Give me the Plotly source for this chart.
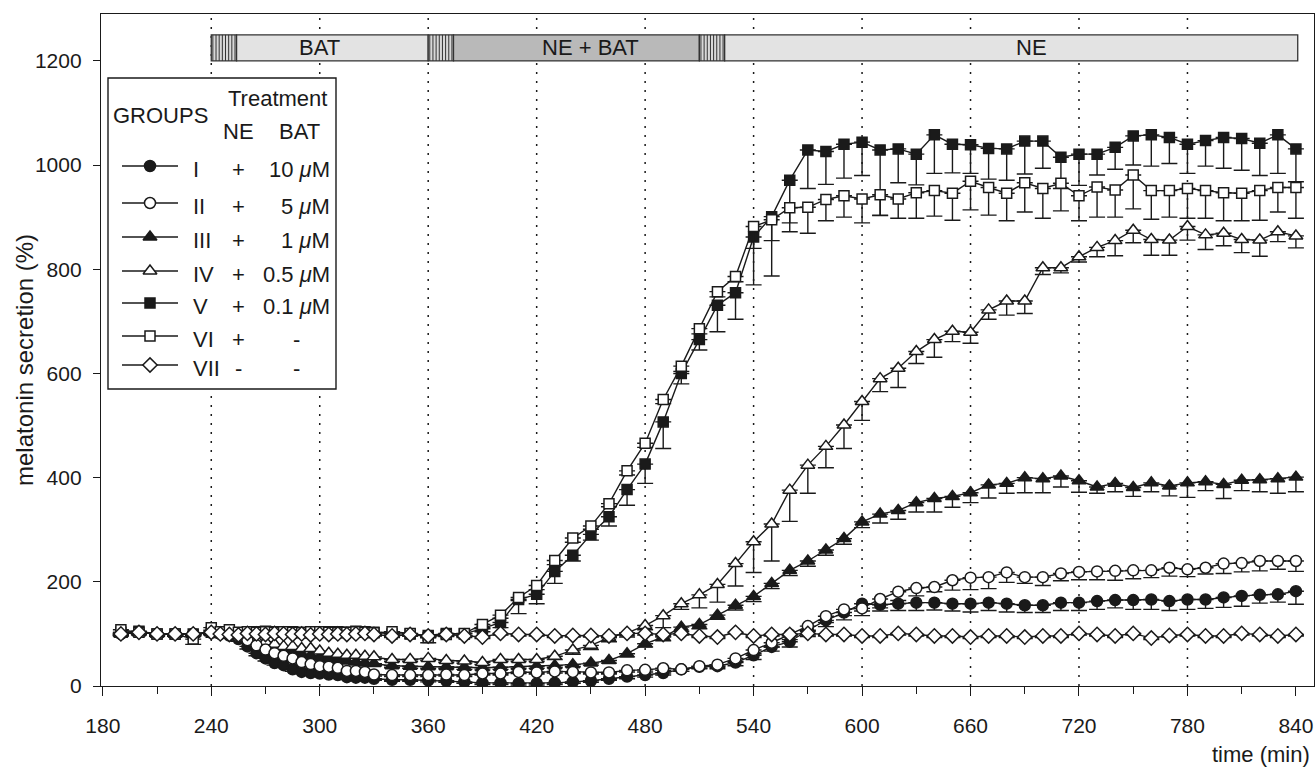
import plotly.graph_objects as go

# ---------------- data ----------------
times = [190, 200, 210, 220, 230, 240,
         245, 250, 255, 260, 265, 270, 275, 280, 285, 290, 295, 300, 305, 310, 315, 320, 325, 330,
         340, 350, 360, 370, 380, 390, 400, 410, 420, 430,
         440, 450, 460, 470, 480, 490, 500, 510, 520, 530,
         540, 550, 560, 570, 580, 590, 600, 610, 620, 630,
         640, 650, 660, 670, 680, 690, 700, 710, 720, 730,
         740, 750, 760, 770, 780, 790, 800, 810, 820, 830, 840]

groups = ["I", "II", "III", "IV", "V", "VI", "VII"]
ne_treat = ["+", "+", "+", "+", "+", "+", "-"]
bat_treat = ["10 <i>μ</i>M", "5 <i>μ</i>M", "1 <i>μ</i>M", "0.5 <i>μ</i>M", "0.1 <i>μ</i>M", "-", "-"]

g1 = [100, 103, 100, 100, 100, 102,
      100, 97, 90, 76, 63, 53, 44, 40, 32, 27, 25, 24, 22, 21, 17, 16, 16, 14,
      12, 12, 11, 10, 8, 6, 6, 5, 5, 6,
      8, 10, 14, 18, 21, 25, 32, 37, 38, 45,
      59, 75, 85, 107, 126, 141, 158, 156, 158, 160,
      160, 158, 158, 160, 158, 155, 155, 160, 160, 163,
      165, 165, 166, 163, 166, 166, 170, 173, 175, 176, 182]
e1 = [3, 3, 3, 3, 3, 3,
      3, 3, 4, 5, 5, 5, 4, 4, 4, 3, 3, 3, 3, 3, 3, 3, 3, 3,
      3, 3, 3, 3, 3, 3, 3, 3, 3, 3,
      3, 3, 3, 4, 4, 4, 4, 4, 5, 6,
      8, 8, 10, 12, 12, 14, 14, 12, 13, 15,
      14, 14, 16, 15, 16, 14, 14, 15, 15, 16,
      15, 18, 19, 18, 19, 17, 19, 20, 16, 15, 25]

g2 = [100, 103, 100, 100, 100, 103,
      100, 100, 95, 88, 78, 70, 63, 58, 53, 46, 42, 38, 37, 35, 29, 29, 27, 22,
      21, 21, 21, 22, 21, 24, 24, 27, 26, 28,
      27, 26, 26, 30, 31, 34, 32, 38, 41, 53,
      69, 83, 99, 115, 134, 147, 149, 167, 181, 188,
      190, 203, 208, 209, 218, 209, 209, 216, 219, 220,
      221, 222, 222, 227, 224, 227, 235, 236, 240, 240, 240]
e2 = [3, 3, 3, 3, 3, 3,
      3, 3, 3, 4, 4, 4, 4, 4, 4, 4, 4, 4, 4, 4, 3, 3, 3, 3,
      3, 3, 3, 3, 3, 3, 3, 3, 3, 3,
      3, 3, 3, 3, 4, 4, 4, 4, 5, 6,
      7, 8, 10, 10, 12, 12, 14, 17, 17, 15,
      9, 19, 23, 22, 19, 12, 16, 14, 15, 16,
      18, 16, 14, 16, 14, 12, 19, 17, 19, 16, 20]

g3 = [100, 102, 100, 100, 100, 102,
      100, 100, 98, 92, 86, 80, 74, 69, 64, 61, 58, 55, 52, 50, 48, 46, 44, 43,
      39, 38, 37, 37, 36, 35, 36, 37, 38, 39,
      41, 44, 49, 62, 81, 94, 113, 118, 136, 155,
      172, 197, 222, 240, 261, 283, 315, 330, 337, 352,
      360, 364, 371, 386, 389, 400, 398, 403, 394, 382,
      389, 381, 390, 384, 390, 392, 387, 395, 396, 398, 401]
e3 = [3, 3, 3, 3, 3, 3,
      3, 3, 3, 4, 4, 4, 4, 4, 4, 4, 4, 4, 4, 4, 4, 4, 4, 4,
      4, 4, 4, 4, 4, 4, 4, 4, 4, 4,
      4, 4, 5, 6, 6, 7, 8, 8, 8, 9,
      10, 10, 10, 10, 10, 11, 11, 17, 17, 18,
      26, 21, 19, 25, 19, 29, 27, 21, 22, 12,
      16, 17, 17, 19, 28, 17, 27, 20, 23, 28, 28]

g4 = [100, 103, 100, 100, 100, 103,
      100, 100, 97, 92, 88, 85, 80, 76, 76, 72, 72, 67, 63, 61, 59, 59, 57, 56,
      51, 51, 53, 49, 48, 45, 51, 51, 51, 57,
      69, 78, 93, 102, 116, 135, 158, 175, 195, 235,
      277, 311, 376, 424, 460, 501, 546, 590, 610, 642,
      665, 681, 679, 722, 739, 739, 803, 803, 824, 842,
      855, 875, 857, 856, 882, 866, 869, 857, 856, 872, 864]
e4 = [3, 3, 3, 3, 3, 3,
      3, 3, 3, 4, 4, 4, 4, 4, 4, 4, 4, 4, 4, 4, 4, 4, 4, 4,
      4, 4, 4, 4, 4, 4, 4, 4, 4, 6,
      8, 8, 8, 8, 8, 23, 11, 25, 34, 43,
      59, 71, 60, 54, 41, 45, 36, 25, 37, 23,
      34, 20, 21, 18, 27, 24, 13, 10, 10, 18,
      29, 24, 30, 29, 26, 28, 24, 25, 31, 19, 23]

g5 = [103, 105, 100, 100, 100, 103,
      102, 103, 102, 103, 104, 105, 104, 103, 104, 103, 102, 103, 104, 104, 103, 105, 104, 103,
      100, 100, 97, 101, 100, 110, 122, 166, 176, 220,
      251, 291, 325, 377, 426, 507, 600, 665, 731, 755,
      862, 901, 971, 1029, 1026, 1040, 1044, 1029, 1031, 1021,
      1058, 1040, 1039, 1032, 1031, 1046, 1046, 1015, 1021, 1021,
      1034, 1056, 1058, 1053, 1040, 1047, 1053, 1051, 1042, 1058, 1031]
e5 = [4, 4, 4, 4, 4, 4,
      4, 4, 4, 4, 4, 4, 4, 4, 4, 4, 4, 4, 4, 4, 4, 4, 4, 4,
      4, 4, 4, 4, 4, 6, 10, 27, 18, 23,
      11, 11, 18, 30, 37, 51, 20, 20, 51, 51,
      92, 114, 82, 74, 63, 65, 64, 125, 65, 59,
      74, 55, 55, 59, 60, 63, 52, 60, 60, 40,
      42, 56, 60, 50, 56, 49, 59, 61, 62, 74, 63]

g6 = [108, 103, 100, 100, 90, 112,
      104, 108, 103, 104, 103, 104, 103, 104, 103, 102, 104, 104, 103, 102, 103, 104, 103, 102,
      104, 101, 93, 99, 101, 118, 136, 170, 193, 241,
      284, 307, 350, 413, 466, 550, 614, 686, 757, 786,
      882, 895, 918, 919, 934, 941, 935, 943, 935, 947,
      951, 946, 969, 957, 946, 966, 955, 965, 941, 958,
      952, 981, 951, 951, 955, 951, 947, 946, 951, 957, 957]
e6 = [5, 4, 4, 4, 10, 5,
      5, 5, 5, 5, 5, 5, 5, 5, 5, 5, 5, 5, 5, 5, 5, 5, 5, 5,
      4, 4, 10, 4, 4, 6, 6, 6, 8, 8,
      8, 6, 6, 8, 8, 8, 10, 10, 10, 10,
      42, 40, 46, 50, 41, 41, 46, 40, 37, 49,
      49, 52, 55, 53, 53, 56, 57, 53, 48, 58,
      52, 65, 55, 51, 57, 53, 54, 53, 57, 47, 59]

g7 = [100, 103, 100, 100, 100, 103,
      100, 99, 98, 101, 100, 99, 101, 100, 99, 100, 98, 100, 99, 100, 99, 100, 101, 99,
      96, 99, 96, 99, 96, 94, 101, 99, 99, 96,
      97, 97, 96, 101, 101, 99, 101, 96, 94, 103,
      96, 99, 99, 101, 99, 99, 96, 96, 101, 99,
      96, 96, 94, 96, 96, 94, 96, 96, 101, 99,
      96, 101, 92, 97, 99, 96, 96, 101, 99, 96, 99]
e7 = [3] * len(times)

values = {"I": g1, "II": g2, "III": g3, "IV": g4, "V": g5, "VI": g6, "VII": g7}
errors = {"I": e1, "II": e2, "III": e3, "IV": e4, "V": e5, "VI": e6, "VII": e7}

x_ticks = [180, 240, 300, 360, 420, 480, 540, 600, 660, 720, 780, 840]
y_ticks = [0, 200, 400, 600, 800, 1000, 1200]
grid_x = [240, 300, 360, 420, 480, 540, 600, 660, 720, 780]

# treatment bar: (start, end, fill, label)
bar_segments = [(240, 254, "hatch", ""), (254, 360, "#e3e3e3", "BAT"),
                (360, 374, "hatch", ""), (374, 510, "#b9b9b9", "NE + BAT"),
                (510, 524, "hatch", ""), (524, 841, "#e3e3e3", "NE")]
bar_label_x = {"BAT": 300, "NE + BAT": 450, "NE": 694}
bar_y = (1200, 1250)

# ---------------- styles ----------------
FONT = "Liberation Sans, Arial, Helvetica, sans-serif"
INK = "#1a1a1a"
TXT = 22
styles = {
    "I": dict(symbol="circle", fill=INK, size=11),
    "II": dict(symbol="circle", fill="white", size=11),
    "III": dict(symbol="triangle-up", fill=INK, size=12),
    "IV": dict(symbol="triangle-up", fill="white", size=12),
    "V": dict(symbol="square", fill=INK, size=10),
    "VI": dict(symbol="square", fill="white", size=10),
    "VII": dict(symbol="diamond", fill="white", size=11),
}
draw_order = ["III", "IV", "I", "II", "V", "VI", "VII"]

# plot area in pixels
L, R, T, B = 101, 1314, 14, 686
W, H = 1316, 767


def px_x(p):
    return (p - L) / (R - L)


def px_y(p):
    return (B - p) / (B - T)


fig = go.Figure()

for g in draw_order:
    st = styles[g]
    fig.add_trace(go.Scatter(
        x=times, y=values[g], mode="lines+markers", name=g,
        line=dict(color=INK, width=1.4),
        marker=dict(symbol=st["symbol"], size=st["size"], color=st["fill"],
                    line=dict(color=INK, width=1.5)),
        error_y=dict(type="data", symmetric=False, array=[0] * len(times),
                     arrayminus=errors[g], color=INK, thickness=1.4, width=8),
        showlegend=False, hoverinfo="skip"))

shapes = []
# dotted vertical grid lines
for gx in grid_x:
    shapes.append(dict(type="line", xref="x", yref="paper", x0=gx, x1=gx, y0=0, y1=1,
                       line=dict(color=INK, width=1.5, dash="2px,7px"), layer="below"))

# treatment bar
for (s, e, fill, lab) in bar_segments:
    fc = "#d8d8d8" if fill == "hatch" else fill
    shapes.append(dict(type="rect", xref="x", yref="y", x0=s, x1=e, y0=bar_y[0], y1=bar_y[1],
                       fillcolor=fc, line=dict(color="#333333", width=1.3), layer="below"))
    if fill == "hatch":
        n = 8
        step = (e - s) / n
        for k in range(n):
            hx = s + step * (k + 0.5)
            shapes.append(dict(type="line", xref="x", yref="y", x0=hx, x1=hx,
                               y0=bar_y[0], y1=bar_y[1],
                               line=dict(color="#333333", width=1), layer="below"))

annotations = []
for (s, e, fill, lab) in bar_segments:
    if lab:
        annotations.append(dict(x=bar_label_x[lab], y=sum(bar_y) / 2, xref="x", yref="y",
                                text=lab, showarrow=False, font=dict(size=TXT, color=INK, family=FONT)))

# ---------------- custom legend table (pixel coordinates on overlay axes) ----------------
leg_box = (108, 336, 78, 389)
shapes.append(dict(type="rect", xref="x2", yref="y2", x0=leg_box[0], x1=leg_box[1],
                   y0=leg_box[2], y1=leg_box[3], fillcolor="white",
                   line=dict(color=INK, width=1.4), layer="below"))
row_y = [166, 203, 237, 271, 303, 336, 365]
for i, g in enumerate(groups):
    st = styles[g]
    yy = row_y[i]
    fig.add_trace(go.Scatter(x=[122, 178], y=[yy, yy], mode="lines", xaxis="x2", yaxis="y2",
                             line=dict(color=INK, width=1.4), showlegend=False, hoverinfo="skip"))
    fig.add_trace(go.Scatter(x=[150], y=[yy], mode="markers", xaxis="x2", yaxis="y2",
                             marker=dict(symbol=st["symbol"], size=st["size"], color=st["fill"],
                                         line=dict(color=INK, width=1.5)),
                             showlegend=False, hoverinfo="skip"))
    annotations.append(dict(x=191, y=yy + 3, xref="x2", yref="y2", text=g, xanchor="left",
                            showarrow=False, font=dict(size=TXT, color=INK, family=FONT)))
    annotations.append(dict(x=238, y=yy + 3, xref="x2", yref="y2", text=ne_treat[i],
                            xanchor="center", showarrow=False,
                            font=dict(size=TXT, color=INK, family=FONT)))
    if bat_treat[i] == "-":
        annotations.append(dict(x=296, y=yy + 3, xref="x2", yref="y2", text="-",
                                xanchor="center", showarrow=False,
                                font=dict(size=TXT, color=INK, family=FONT)))
    else:
        annotations.append(dict(x=332, y=yy + 3, xref="x2", yref="y2", text=bat_treat[i],
                                xanchor="right", showarrow=False,
                                font=dict(size=TXT, color=INK, family=FONT)))

annotations += [
    dict(x=111, y=115, xref="x2", yref="y2", text="GROUPS", xanchor="left", showarrow=False,
         font=dict(size=TXT, color=INK, family=FONT)),
    dict(x=277, y=98, xref="x2", yref="y2", text="Treatment", xanchor="center", showarrow=False,
         font=dict(size=TXT, color=INK, family=FONT)),
    dict(x=238, y=131, xref="x2", yref="y2", text="NE", xanchor="center", showarrow=False,
         font=dict(size=TXT, color=INK, family=FONT)),
    dict(x=299, y=131, xref="x2", yref="y2", text="BAT", xanchor="center", showarrow=False,
         font=dict(size=TXT, color=INK, family=FONT)),
]

# axis titles (paper coordinates, placed outside the plot area)
annotations.append(dict(x=px_x(25), y=px_y(360), xref="paper", yref="paper",
                        text="melatonin secretion (%)", textangle=-90, showarrow=False,
                        xanchor="center", yanchor="middle",
                        font=dict(size=24, color=INK, family=FONT)))
annotations.append(dict(x=px_x(1312), y=px_y(754), xref="paper", yref="paper",
                        text="time (min)", xanchor="right", yanchor="middle", showarrow=False,
                        font=dict(size=22, color=INK, family=FONT)))

fig.update_layout(
    width=W, height=H,
    margin=dict(l=L, r=W - R, t=T, b=H - B, pad=0),
    paper_bgcolor="white", plot_bgcolor="white",
    font=dict(family=FONT, size=21, color=INK),
    showlegend=False,
    xaxis=dict(range=[179, 850], tickvals=x_ticks, ticks="outside", ticklen=9, tickwidth=1.4,
               tickcolor=INK, showline=True, linecolor=INK, linewidth=1.4, mirror=True,
               showgrid=False, zeroline=False, tickfont=dict(size=21, family=FONT, color=INK),
               ticklabelstandoff=12,
               minor=dict(dtick=30, tick0=180, ticks="outside", ticklen=7, tickwidth=1.4,
                          tickcolor=INK, showgrid=False)),
    yaxis=dict(range=[0, 1290], tickvals=y_ticks, ticks="outside", ticklen=7, tickwidth=1.4,
               tickcolor=INK, showline=True, linecolor=INK, linewidth=1.4, mirror=True,
               showgrid=False, zeroline=False, tickfont=dict(size=21, family=FONT, color=INK),
               ticklabelstandoff=7),
    xaxis2=dict(overlaying="x", range=[L, R], visible=False, fixedrange=True),
    yaxis2=dict(overlaying="y", range=[B, T], visible=False, fixedrange=True),
    shapes=shapes, annotations=annotations,
)

fig.write_html("out.html")
